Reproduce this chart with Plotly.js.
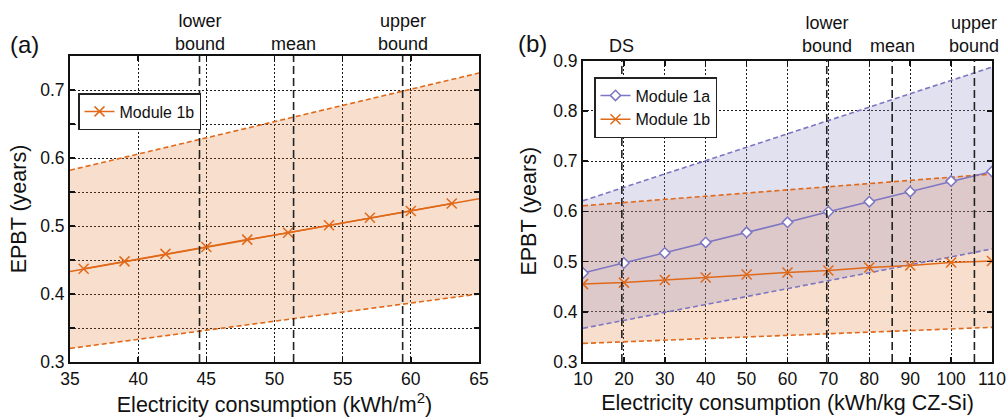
<!DOCTYPE html>
<html>
<head>
<meta charset="utf-8">
<script src="https://cdn.plot.ly/plotly-3.0.1.min.js"></script>
<style>html,body{margin:0;padding:0;background:#fff;}#chart{width:1008px;height:417px;}</style>
</head>
<body>
<div id="chart"></div>
<script>
// ---------- Panel (a) data ----------
const aMarkX = [36, 39, 42, 45, 48, 51, 54, 57, 60, 63];
const aMod1b = [0.437, 0.448, 0.459, 0.469, 0.480, 0.490, 0.501, 0.512, 0.522, 0.533];
const aLineX = [35, 65];
const aLineY = [0.433, 0.540];
const aBandX = [35, 65];
const aUpper = [0.582, 0.725];
const aLower = [0.320, 0.400];
const aRefX = [44.5, 51.4, 59.4];
const aRefLabels = ["lower<br>bound", "mean", "upper<br>bound"];
const aYTicks = [0.3, 0.4, 0.5, 0.6, 0.7];
const aYMinor = [0.35, 0.45, 0.55, 0.65, 0.75];
const aXTicks = [35, 40, 45, 50, 55, 60, 65];

// ---------- Panel (b) data ----------
const bX = [10, 20, 30, 40, 50, 60, 70, 80, 90, 100, 110];
const bMod1a = [0.477, 0.497, 0.517, 0.538, 0.558, 0.578, 0.599, 0.619, 0.639, 0.660, 0.679];
const bMod1b = [0.455, 0.458, 0.463, 0.468, 0.474, 0.478, 0.482, 0.488, 0.492, 0.498, 0.501];
const bBandX = [10, 110];
const b1aUpper = [0.621, 0.887];
const b1aLower = [0.367, 0.525];
const b1bUpper = [0.611, 0.674];
const b1bLower = [0.337, 0.369];
const bRefX = [19.5, 69.6, 85.6, 105.7];
const bRefLabels = ["DS", "lower<br>bound", "mean", "upper<br>bound"];
const bYTicks = [0.3, 0.4, 0.5, 0.6, 0.7, 0.8, 0.9];
const bXTicks = [10, 20, 30, 40, 50, 60, 70, 80, 90, 100, 110];

// ---------- styles ----------
const ORANGE = '#e0691a';
const PURPLE = '#7d76c2';
const PEACH_FILL = 'rgba(224,108,28,0.22)';
const LAV_FILL = 'rgba(148,144,196,0.27)';
const FONT = 'Liberation Sans, Arial, Helvetica, sans-serif';
const W = 1008, H = 417;

function band(x, lo, hi, fillcolor, xa, ya) {
  return [
    {x: x, y: lo, xaxis: xa, yaxis: ya, mode: 'lines', line: {width: 0}, showlegend: false, hoverinfo: 'skip'},
    {x: x, y: hi, xaxis: xa, yaxis: ya, mode: 'lines', line: {width: 0}, fill: 'tonexty', fillcolor: fillcolor, showlegend: false, hoverinfo: 'skip'}
  ];
}
function dashed(x, y, color, xa, ya) {
  return {x: x, y: y, xaxis: xa, yaxis: ya, mode: 'lines', line: {color: color, width: 1.6, dash: '5px,3px'}, showlegend: false, hoverinfo: 'skip'};
}

const traces = [].concat(
  band(aBandX, aLower, aUpper, PEACH_FILL, 'x', 'y'),
  band(bBandX, b1bLower, b1bUpper, PEACH_FILL, 'x2', 'y2'),
  band(bBandX, b1aLower, b1aUpper, LAV_FILL, 'x2', 'y2'),
  [
    dashed(aBandX, aLower, ORANGE, 'x', 'y'),
    dashed(aBandX, aUpper, ORANGE, 'x', 'y'),
    dashed(bBandX, b1bLower, ORANGE, 'x2', 'y2'),
    dashed(bBandX, b1bUpper, ORANGE, 'x2', 'y2'),
    dashed(bBandX, b1aLower, PURPLE, 'x2', 'y2'),
    dashed(bBandX, b1aUpper, PURPLE, 'x2', 'y2'),
    {x: aLineX, y: aLineY, xaxis: 'x', yaxis: 'y', mode: 'lines', line: {color: ORANGE, width: 1.5}, showlegend: false},
    {x: aMarkX, y: aMod1b, xaxis: 'x', yaxis: 'y', mode: 'lines+markers', name: 'Module 1b', legend: 'legend',
     line: {color: ORANGE, width: 1.5},
     marker: {symbol: 'x-thin-open', size: 10, color: ORANGE, line: {color: ORANGE, width: 1.5}}},
    {x: bX, y: bMod1a, xaxis: 'x2', yaxis: 'y2', mode: 'lines+markers', name: 'Module 1a', legend: 'legend2',
     line: {color: PURPLE, width: 1.5},
     marker: {symbol: 'diamond', size: 8, color: 'white', line: {color: PURPLE, width: 1.5}}},
    {x: bX, y: bMod1b, xaxis: 'x2', yaxis: 'y2', mode: 'lines+markers', name: 'Module 1b', legend: 'legend2',
     line: {color: ORANGE, width: 1.5},
     marker: {symbol: 'x-thin-open', size: 10, color: ORANGE, line: {color: ORANGE, width: 1.5}}}
  ]
);

const axisCommon = {
  showline: true, linecolor: '#111', linewidth: 2, mirror: 'ticks',
  ticks: 'inside', ticklen: 5, tickwidth: 1.5, tickcolor: '#111',
  showgrid: true, gridcolor: '#1a1a1a', gridwidth: 1, griddash: '2px,2px',
  zeroline: false, tickfont: {family: FONT, size: 17.5, color: '#111'}
};
function ax(extra) { return Object.assign(JSON.parse(JSON.stringify(axisCommon)), extra); }
const titleFont = {family: FONT, size: 21.5, color: '#111'};

const shapes = [];
aRefX.forEach(v => shapes.push({type: 'line', xref: 'x', yref: 'y domain', x0: v, x1: v, y0: 0, y1: 1,
  line: {color: '#222', width: 1.6, dash: '8px,4px'}}));
bRefX.forEach(v => shapes.push({type: 'line', xref: 'x2', yref: 'y2 domain', x0: v, x1: v, y0: 0, y1: 1,
  line: {color: '#222', width: 1.6, dash: '8px,4px'}}));

const annotations = [];
aRefLabels.forEach((t, i) => annotations.push({
  text: t, xref: 'x', yref: 'paper', x: aRefX[i], y: 1 - (t.indexOf('<br>') >= 0 ? 33 : 44) / H,
  yanchor: 'middle', xanchor: 'center', showarrow: false, font: {family: FONT, size: 18, color: '#111'}
}));
bRefLabels.forEach((t, i) => annotations.push({
  text: t, xref: 'x2', yref: 'paper', x: bRefX[i], y: 1 - (t.indexOf('<br>') >= 0 ? 34 : 46) / H,
  yanchor: 'middle', xanchor: 'center', showarrow: false, font: {family: FONT, size: 18, color: '#111'}
}));
annotations.push({text: '(a)', xref: 'paper', yref: 'paper', x: 24 / W, y: 1 - 44 / H, xanchor: 'center', yanchor: 'middle',
  showarrow: false, font: {family: FONT, size: 24, color: '#111'}});
annotations.push({text: '(b)', xref: 'paper', yref: 'paper', x: 532 / W, y: 1 - 43 / H, xanchor: 'center', yanchor: 'middle',
  showarrow: false, font: {family: FONT, size: 24, color: '#111'}});

const minorGrid = {showgrid: true, gridcolor: '#1a1a1a', gridwidth: 1, griddash: '2px,2px', ticks: 'inside', ticklen: 5, tickwidth: 1.5, tickcolor: '#111'};

const layout = {
  width: W, height: H,
  margin: {l: 0, r: 0, t: 0, b: 0, pad: 0},
  paper_bgcolor: 'white', plot_bgcolor: 'white',
  font: {family: FONT, color: '#111'},
  xaxis: ax({domain: [70 / W, 479 / W], range: [35, 65], tickvals: aXTicks, anchor: 'y',
    title: {text: 'Electricity consumption (kWh/m<sup>2</sup>)', standoff: 7, font: titleFont}}),
  yaxis: ax({domain: [1 - 362 / H, 1 - 56 / H], range: [0.3, 0.75], tickvals: aYTicks, anchor: 'x',
    minor: Object.assign({tickvals: aYMinor}, minorGrid),
    title: {text: 'EPBT (years)', standoff: 8, font: titleFont}}),
  xaxis2: ax({domain: [583 / W, 992 / W], range: [10, 110], tickvals: bXTicks, anchor: 'y2',
    title: {text: 'Electricity consumption (kWh/kg CZ-Si)', standoff: 7, font: titleFont}}),
  yaxis2: ax({domain: [1 - 362 / H, 1 - 60.5 / H], range: [0.3, 0.9], tickvals: bYTicks, anchor: 'x2',
    title: {text: 'EPBT (years)', standoff: 11, font: titleFont}}),
  legend: {x: 78 / W, y: 1 - 93 / H, xanchor: 'left', yanchor: 'top', bgcolor: 'white', bordercolor: '#222', borderwidth: 1.5,
    font: {family: FONT, size: 16, color: '#111'}, itemwidth: 30, tracegroupgap: 0},
  legend2: {x: 594 / W, y: 1 - 77 / H, xanchor: 'left', yanchor: 'top', bgcolor: 'white', bordercolor: '#222', borderwidth: 1.5,
    font: {family: FONT, size: 16, color: '#111'}, itemwidth: 30, tracegroupgap: 0},
  shapes: shapes,
  annotations: annotations,
  showlegend: true
};

Plotly.newPlot('chart', traces, layout, {staticPlot: true, displayModeBar: false});
</script>
</body>
</html>
